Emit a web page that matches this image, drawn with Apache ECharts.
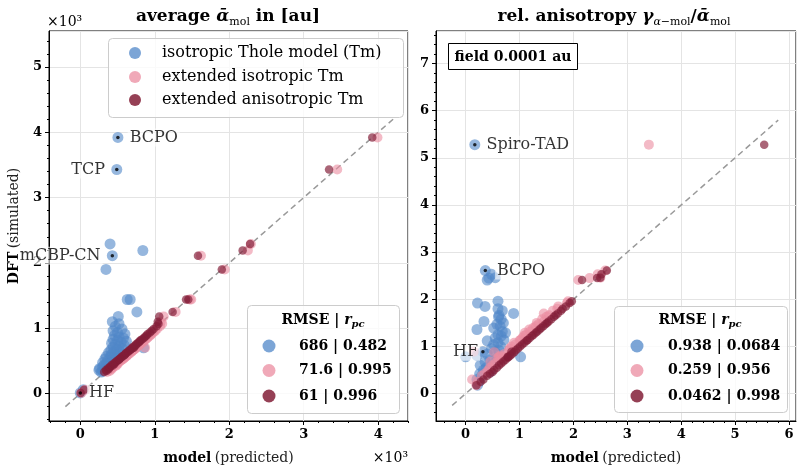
<!DOCTYPE html>
<html>
<head>
<meta charset="utf-8">
<script src="https://cdn.jsdelivr.net/npm/echarts@6/dist/echarts.min.js"></script>
<style>
  html, body { margin: 0; padding: 0; background: #fff; }
  #chart { width: 804px; height: 474px; }
</style>
</head>
<body>
<div id="chart"></div>
<script>
// ---- left panel: average polarizability, in au (axis shows x10^3)
const avgDft = [3920, 3430, 2110, 2290, 2190, 1900, 1440, 1440, 1250, 10, 60, 700,
  330, 345, 360, 372, 385, 398, 410, 425, 438, 450, 462, 475, 490, 505, 518, 530, 545, 558, 570, 585,
  598, 612, 625, 640, 655, 668, 680, 695, 710, 725, 740, 755, 770, 785, 800, 815, 830, 850, 870, 890,
  910, 935, 960, 990, 1030, 1070, 1100, 1180]
const avgTm = [505, 490, 430, 400, 840, 345, 630, 670, 760, 0, 40, 850,
  280, 300, 250, 330, 260, 340, 300, 370, 320, 390, 350, 300, 410, 370, 440, 330, 460, 400, 350, 480,
  420, 510, 380, 450, 530, 410, 490, 560, 440, 520, 590, 470, 420, 550, 620, 500, 440, 580, 520, 460,
  600, 500, 440, 560, 470, 520, 430, 510]
const avgExtIso = [3990, 3450, 1620, 2290, 2250, 1940, 1490, 1470, 1280, 15, 70, 870,
  360, 395, 375, 420, 410, 440, 430, 480, 455, 500, 490, 510, 530, 545, 560, 575, 590, 600, 620, 630,
  640, 665, 660, 690, 700, 715, 730, 745, 760, 770, 790, 800, 820, 835, 850, 860, 880, 900, 915, 940,
  955, 980, 1005, 1030, 1070, 1100, 1080, 1120]
const avgExtAniso = [3920, 3340, 1580, 2280, 2180, 1900, 1450, 1420, 1240, 5, 50, 720,
  320, 350, 345, 380, 370, 395, 400, 430, 420, 455, 450, 470, 485, 500, 520, 525, 540, 560, 565, 590,
  600, 610, 620, 645, 650, 670, 680, 695, 705, 725, 745, 750, 770, 785, 800, 810, 830, 855, 870, 890,
  905, 935, 960, 985, 1025, 1050, 1040, 1060]
const avgDiag = [-200, 4200]
const avgLabels = ['BCPO', 'TCP', 'mCBP-CN', 'HF']
const avgLabelIdx = [0, 1, 2, 9]
const avgRmse = ['686 | 0.482', '71.6 | 0.995', '61 | 0.996']

// ---- right panel: relative anisotropy
const anisoDft = [5.28, 2.61, 2.45, 2.46, 2.41, 2.53, 0.89, 0.78,
  0.18, 0.25, 0.30, 0.38, 0.42, 0.46, 0.50, 0.55, 0.60, 0.64, 0.68, 0.72, 0.76, 0.78, 0.81,
  0.84, 0.88, 0.92, 0.96, 1.00, 1.04, 1.08, 1.12, 1.14, 1.18, 1.22, 1.25, 1.29, 1.32, 1.36,
  1.39, 1.43, 1.47, 1.50, 1.53, 1.58, 1.63, 1.66, 1.70, 1.76, 1.80, 1.85, 1.92, 1.96]
const anisoTm = [0.17, 0.365, 0.43, 0.55, 0.40, 0.48, 0.32, 0.0,
  0.22, 0.24, 0.21, 0.30, 0.26, 0.45, 0.33, 0.38, 0.27, 0.50, 0.36, 0.45, 0.58, 1.02, 0.21,
  0.40, 0.55, 0.62, 0.48, 0.65, 0.52, 0.60, 0.40, 0.71, 0.55, 0.66, 0.60, 0.74, 0.68, 0.21,
  0.52, 0.64, 0.58, 0.70, 0.34, 0.66, 0.61, 0.62, 0.89, 0.68, 0.60, 0.36, 0.22, 0.60]
const anisoExtIso = [3.40, 2.59, 2.30, 2.50, 2.09, 2.45, 0.15, 0.62,
  0.20, 0.22, 0.12, 0.30, 0.35, 0.40, 0.42, 0.45, 0.50, 0.55, 0.46, 0.62, 0.60, 0.70, 0.65,
  0.72, 0.53, 0.80, 0.82, 0.85, 0.92, 0.90, 1.00, 1.02, 1.05, 1.08, 1.12, 1.10, 1.20, 1.18,
  1.25, 1.30, 1.35, 1.32, 1.45, 1.42, 1.50, 1.55, 1.45, 1.62, 1.70, 1.72, 1.88, 1.90]
const anisoExtAniso = [5.54, 2.62, 2.44, 2.50, 2.16, 2.52, 0.85, 0.78,
  0.20, 0.28, 0.33, 0.40, 0.45, 0.50, 0.53, 0.58, 0.62, 0.66, 0.70, 0.74, 0.78, 0.80, 0.83,
  0.86, 0.90, 0.93, 0.97, 1.01, 1.05, 1.09, 1.13, 1.15, 1.19, 1.23, 1.26, 1.30, 1.33, 1.37,
  1.40, 1.44, 1.48, 1.51, 1.54, 1.59, 1.64, 1.67, 1.71, 1.77, 1.80, 1.86, 1.93, 1.97]
const anisoDiag = [-0.25, 5.8]
const anisoLabels = ['Spiro-TAD', 'BCPO', 'HF']
const anisoLabelIdx = [0, 1, 6]
const anisoRmse = ['0.938 | 0.0684', '0.259 | 0.956', '0.0462 | 0.998']

const modelNames = ['isotropic Thole model (Tm)', 'extended isotropic Tm', 'extended anisotropic Tm']

const FONT = 'DejaVu Serif'
const COLORS = ['rgba(80,135,200,0.75)', 'rgba(235,140,160,0.75)', 'rgba(130,30,55,0.85)']
const SIZES = [11, 10, 8.5]
const INK = '#000'

const chart = echarts.init(document.getElementById('chart'), null, { renderer: 'canvas' })

function pairs(xs, ys) {
  return xs.map((x, i) => [x, ys[i]])
}

function scatter(name, xs, ys, k, gi) {
  return {
    name: name,
    type: 'scatter',
    xAxisIndex: gi,
    yAxisIndex: gi,
    symbolSize: SIZES[k],
    itemStyle: { color: COLORS[k] },
    emphasis: { disabled: true },
    z: 3,
    data: pairs(xs, ys)
  }
}

function diagonal(ends, gi) {
  return {
    type: 'line',
    xAxisIndex: gi,
    yAxisIndex: gi,
    symbol: 'none',
    silent: true,
    z: 2,
    lineStyle: { color: '#999', width: 1.5, type: [6, 4] },
    data: [[ends[0], ends[0]], [ends[1], ends[1]]]
  }
}

// black dots + names on the highlighted molecules (taken from the Tm series)
const labelSide = { BCPO: 'right', 'Spiro-TAD': 'right', TCP: 'left', 'mCBP-CN': 'left' }
function highlights(names, idx, xs, ys, gi) {
  return {
    type: 'scatter',
    xAxisIndex: gi,
    yAxisIndex: gi,
    symbolSize: 3.5,
    itemStyle: { color: '#000' },
    emphasis: { disabled: true },
    z: 6,
    label: {
      show: true,
      formatter: '{b}',
      fontFamily: FONT,
      fontSize: 16,
      color: '#000',
      backgroundColor: 'rgba(255,255,255,0.75)',
      padding: [1, 2],
      distance: 8
    },
    data: names.map((n, k) => {
      let side = labelSide[n] || (gi === 0 ? 'right' : 'left')
      return {
        name: n,
        value: [xs[idx[k]], ys[idx[k]]],
        label: { position: side, distance: (n === 'HF' ? (gi === 0 ? 5 : 1) : 8) }
      }
    })
  }
}

function minorTicks(min, max, step) {
  const out = []
  for (let k = Math.ceil(min / step); k <= Math.floor(max / step); k++) {
    if (k % 5 !== 0) out.push(Math.round(k * step * 1000) / 1000)
  }
  return out
}

function mainAxis(gi, pos, min, max, split, fmt, name, gap) {
  return {
    type: 'value',
    gridIndex: gi,
    position: pos,
    min: min,
    max: max,
    splitNumber: split,
    name: name,
    nameLocation: 'middle',
    nameGap: gap,
    nameTextStyle: {
      rich: {
        b: { fontFamily: FONT, fontSize: 14, fontWeight: 'bold', color: INK },
        n: { fontFamily: FONT, fontSize: 14, color: '#222' }
      }
    },
    axisLine: { show: true, onZero: false, lineStyle: { color: INK, width: 1 } },
    axisTick: { show: true, length: 4, lineStyle: { color: INK } },
    axisLabel: {
      fontFamily: FONT, fontSize: 13, fontWeight: 'bold', color: INK, margin: 7,
      showMinLabel: false, showMaxLabel: false, formatter: fmt
    },
    splitLine: { show: true, lineStyle: { color: '#e4e4e4', width: 1 } }
  }
}

function minorAxis(gi, pos, min, max, step) {
  return {
    type: 'value',
    gridIndex: gi,
    position: pos,
    min: min,
    max: max,
    axisLine: { show: false, onZero: false },
    axisLabel: { show: false },
    splitLine: { show: false },
    axisTick: { show: true, length: 2, lineStyle: { color: INK }, customValues: minorTicks(min, max, step) }
  }
}

const thousands = v => String(v / 1000)
const plain = v => String(v)

const sub = { fontFamily: FONT, fontSize: 11, color: INK, lineHeight: 12, verticalAlign: 'bottom' }
const big = { fontFamily: FONT, fontSize: 17, fontWeight: 'bold', color: INK, lineHeight: 22, verticalAlign: 'middle' }
const bigIt = Object.assign({}, big, { fontStyle: 'italic' })
const subIt = Object.assign({}, sub, { fontStyle: 'italic' })

const rmseRich = {
  b: { fontFamily: FONT, fontSize: 14, fontWeight: 'bold', color: INK, lineHeight: 18, verticalAlign: 'middle' },
  r: { fontFamily: FONT, fontSize: 14, fontWeight: 'bold', fontStyle: 'italic', color: INK, lineHeight: 18, verticalAlign: 'middle' },
  p: { fontFamily: FONT, fontSize: 10, fontWeight: 'bold', fontStyle: 'italic', color: INK, lineHeight: 11, verticalAlign: 'bottom' }
}

// legend boxes drawn by hand: frame, colour dots, entry text
function legendBox(box, dotX, textX, rows, names, font, r) {
  const els = [{
    type: 'rect', z: 100,
    shape: { x: box[0] + 0.5, y: box[1] + 0.5, width: box[2], height: box[3], r: 4 },
    style: { fill: 'rgba(255,255,255,0.8)', stroke: '#cccccc', lineWidth: 1 }
  }]
  names.forEach((n, k) => {
    els.push({
      type: 'circle', z: 101,
      shape: { cx: dotX, cy: rows[k], r: r },
      style: { fill: COLORS[k] }
    })
    els.push({
      type: 'text', z: 101, x: textX, y: rows[k],
      style: { text: n, font: font, fill: INK, align: 'left', verticalAlign: 'middle' }
    })
  })
  return els
}

const legends = [].concat(
  legendBox([108, 38, 295, 79], 135, 162, [53, 77, 100], modelNames, '16px "DejaVu Serif"', 6),
  legendBox([247, 305, 152, 108], 269, 299, [346, 370.5, 396], avgRmse, 'bold 14px "DejaVu Serif"', 6.5),
  legendBox([614, 306, 173, 106], 637, 668, [346, 370.5, 396], anisoRmse, 'bold 14px "DejaVu Serif"', 6.5)
)

chart.setOption({
  animation: false,
  backgroundColor: '#fff',
  grid: [
    { left: 49, top: 31, width: 359, height: 390, show: true, borderColor: INK, borderWidth: 1, backgroundColor: 'transparent', outerBoundsMode: 'none' },
    { left: 436, top: 31, width: 360, height: 390, show: true, borderColor: INK, borderWidth: 1, backgroundColor: 'transparent', outerBoundsMode: 'none' }
  ],
  xAxis: [
    mainAxis(0, 'bottom', -420, 4400, 5, thousands, '{b|model} {n|(predicted)}', 30),
    mainAxis(1, 'bottom', -0.55, 6.13, 5, plain, '{b|model} {n|(predicted)}', 30),
    minorAxis(0, 'bottom', -420, 4400, 200),
    minorAxis(1, 'bottom', -0.55, 6.13, 0.2)
  ],
  yAxis: [
    mainAxis(0, 'left', -420, 5550, 5, thousands, '{b|DFT} {n|(simulated)}', 28),
    mainAxis(1, 'left', -0.58, 7.69, 7, plain, '', 28),
    minorAxis(0, 'left', -420, 5550, 200),
    minorAxis(1, 'left', -0.58, 7.69, 0.2)
  ],
  graphic: legends.concat([
    {
      type: 'text', x: 228, y: 17, z: 100,
      style: {
        text: '{b|average }{g|ᾱ}{s|mol}{b| in [au]}',
        align: 'center', verticalAlign: 'middle',
        rich: { b: big, g: bigIt, s: sub }
      }
    },
    {
      type: 'text', x: 614, y: 17, z: 100,
      style: {
        text: '{b|rel. anisotropy }{g|γ}{si|α}{s|−mol}{b|/}{g|ᾱ}{s|mol}',
        align: 'center', verticalAlign: 'middle',
        rich: { b: big, g: bigIt, s: sub, si: subIt }
      }
    },
    {
      type: 'text', x: 47, y: 22, z: 100,
      style: { text: '×10³', font: '14px "DejaVu Serif"', fill: INK, align: 'left', verticalAlign: 'middle' }
    },
    {
      type: 'text', x: 408, y: 458, z: 100,
      style: { text: '×10³', font: '14px "DejaVu Serif"', fill: INK, align: 'right', verticalAlign: 'middle' }
    },
    {
      type: 'text', x: 323, y: 320, z: 101,
      style: { text: '{b|RMSE | }{r|r}{p|pc}', align: 'center', verticalAlign: 'middle', rich: rmseRich }
    },
    {
      type: 'text', x: 700, y: 320, z: 101,
      style: { text: '{b|RMSE | }{r|r}{p|pc}', align: 'center', verticalAlign: 'middle', rich: rmseRich }
    },
    {
      type: 'rect', z: 100,
      shape: { x: 448.5, y: 43.5, width: 129, height: 26 },
      style: { fill: '#fff', stroke: INK, lineWidth: 1 }
    },
    {
      type: 'text', x: 513, y: 57, z: 101,
      style: { text: 'field 0.0001 au', font: 'bold 14px "DejaVu Serif"', fill: INK, align: 'center', verticalAlign: 'middle' }
    }
  ]),
  series: [
    diagonal(avgDiag, 0),
    scatter(modelNames[0], avgTm, avgDft, 0, 0),
    scatter(modelNames[1], avgExtIso, avgDft, 1, 0),
    scatter(modelNames[2], avgExtAniso, avgDft, 2, 0),
    highlights(avgLabels, avgLabelIdx, avgTm, avgDft, 0),
    diagonal(anisoDiag, 1),
    scatter(anisoRmse[0], anisoTm, anisoDft, 0, 1),
    scatter(anisoRmse[1], anisoExtIso, anisoDft, 1, 1),
    scatter(anisoRmse[2], anisoExtAniso, anisoDft, 2, 1),
    highlights(anisoLabels, anisoLabelIdx, anisoTm, anisoDft, 1)
  ]
})
</script>
</body>
</html>
